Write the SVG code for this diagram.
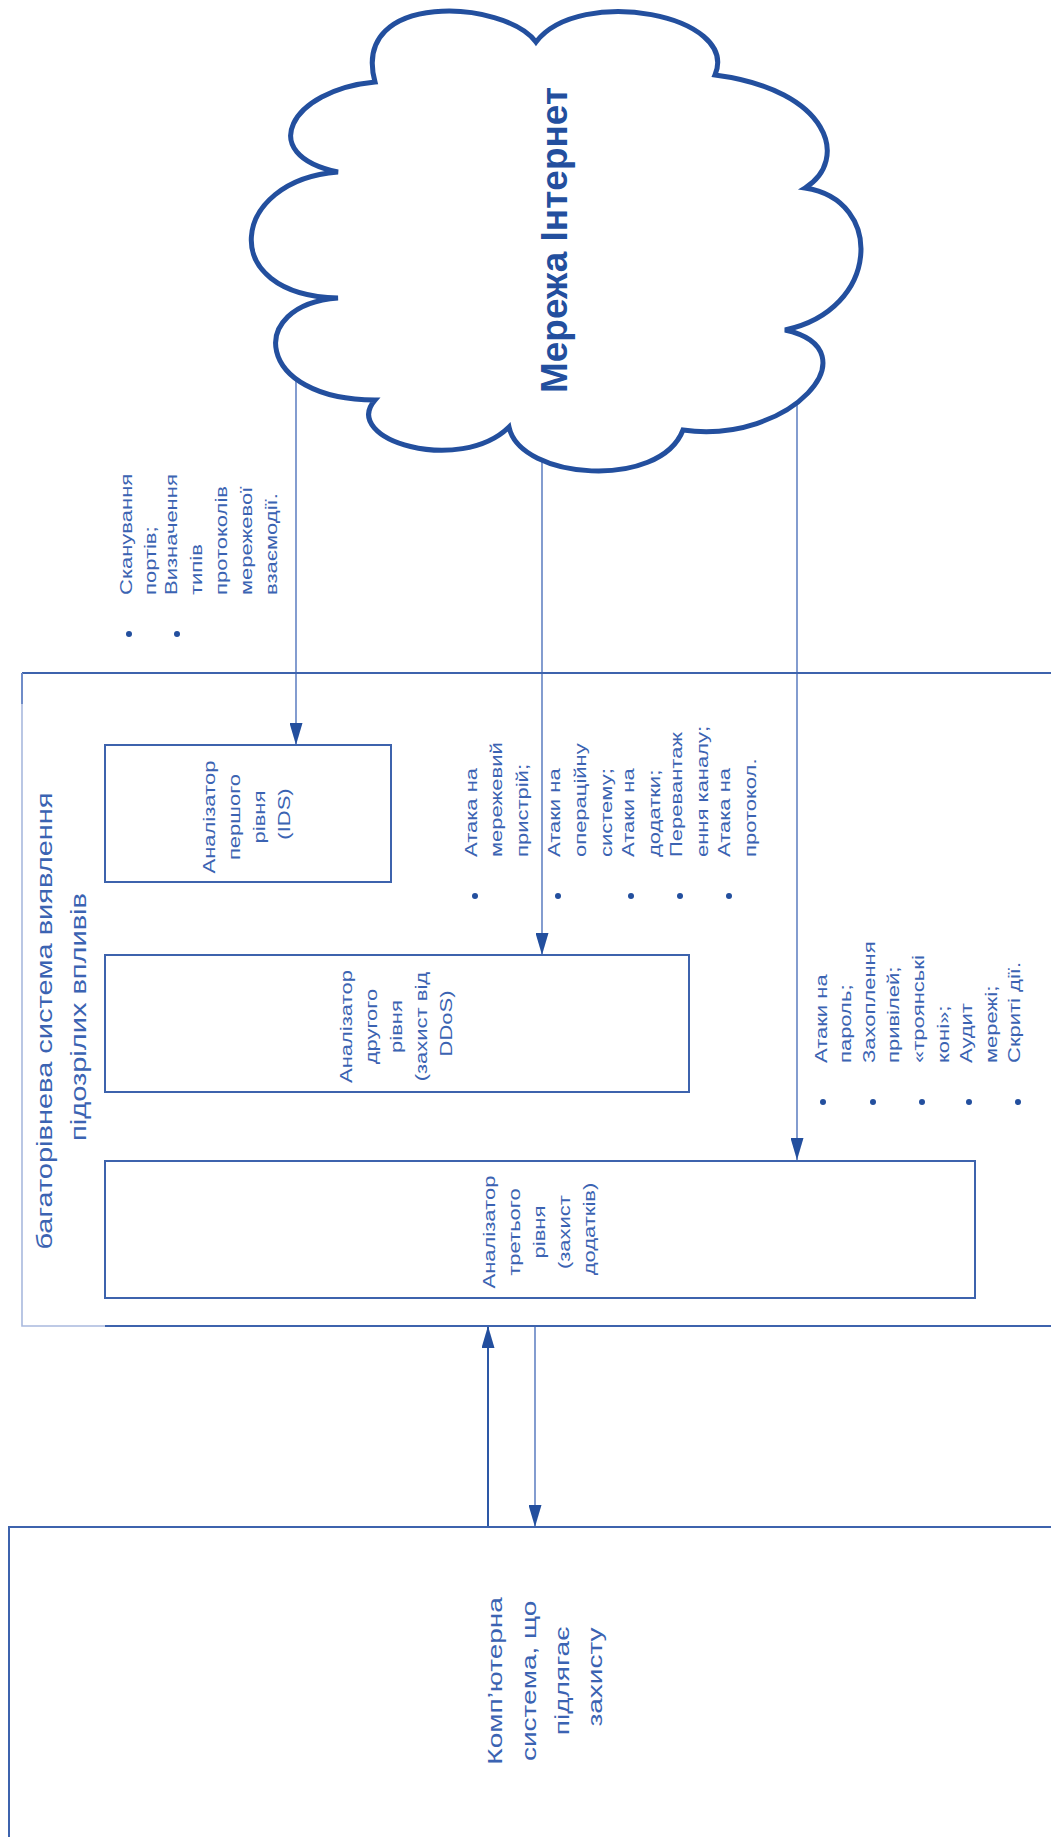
<svg xmlns="http://www.w3.org/2000/svg" width="1051" height="1837" viewBox="0 0 1051 1837">
  <style>
    .lbl { font-family: "Liberation Sans", Arial, sans-serif; fill: #3b63b2; }
    .box { fill: none; stroke: #3d63ad; stroke-width: 2; }
    .wire { fill: none; stroke: #6584c4; stroke-width: 1.6; }
    .dot { fill: #234f9e; }
  </style>
  <defs>
    <marker id="head" viewBox="0 0 22 13" markerUnits="userSpaceOnUse" markerWidth="22" markerHeight="13" refX="22" refY="6.5" orient="auto">
      <path d="M0,0 L22,6.5 L0,13 z" fill="#234f9e"/>
    </marker>
  </defs>

  <rect width="1051" height="1837" fill="#ffffff"/>

  <!-- connectors -->
  <g id="connectors">
    <line class="wire" x1="296" y1="360" x2="296" y2="745" marker-end="url(#head)"/>
    <line class="wire" x1="542" y1="440" x2="542" y2="955" marker-end="url(#head)"/>
    <line class="wire" x1="797" y1="400" x2="797" y2="1160" marker-end="url(#head)"/>
    <line class="wire" x1="488" y1="1527" x2="488" y2="1326" marker-end="url(#head)" style="stroke:#2d58a6;stroke-width:2"/>
    <line class="wire" x1="535" y1="1326" x2="535" y2="1527" marker-end="url(#head)"/>
  </g>

  <!-- Internet cloud -->
  <g id="internet">
    <path d="M536,42 C505,0 350,-10 375,82 C290,90 255,155 338,172 C230,180 215,295 338,298 C245,305 255,400 375,400 C340,440 460,475 509,427 C520,480 660,490 683,430 C790,445 875,350 785,330 C880,310 885,200 805,188 C850,160 830,90 715,75 C740,15 580,-15 536,42 Z"
          fill="#ffffff" stroke="#234f9e" stroke-width="5" stroke-linejoin="miter"/>
    <text class="lbl" transform="translate(567,240) rotate(-90)" text-anchor="middle" font-size="37" font-weight="bold" style="fill:#234f9e">Мережа Інтернет</text>
  </g>

  <!-- list of threats caught at the first level -->
  <g id="threats-1">
    <circle class="dot" cx="129" cy="634" r="3"/>
    <circle class="dot" cx="177" cy="634" r="3"/>
    <text class="lbl" transform="translate(131.5,595) scale(0.75,1) rotate(-90)" font-size="22">
      <tspan x="0" y="0">Сканування</tspan>
      <tspan x="0" y="33.3">портів;</tspan>
      <tspan x="0" y="60.7">Визначення</tspan>
      <tspan x="0" y="94">типів</tspan>
      <tspan x="0" y="127.3">протоколів</tspan>
      <tspan x="0" y="160.7">мережевої</tspan>
      <tspan x="0" y="194">взаємодії.</tspan>
    </text>
  </g>

  <!-- multi-level detection system -->
  <g id="detection-system">
    <path d="M22,673 L1060,673 M105,1326 L1060,1326" fill="none" stroke="#3d63ad" stroke-width="2"/>
    <path d="M22,673 L22,1326 L105,1326" fill="none" stroke="#a9b9de" stroke-width="1.6"/>
    <line x1="22" y1="673" x2="22" y2="704" stroke="#6f8cc8" stroke-width="2"/>
    <text class="lbl" transform="translate(52,1017) scale(0.75,1) rotate(-90)" text-anchor="middle" font-size="29">
      <tspan x="0" y="0">багаторівнева система виявлення</tspan>
      <tspan x="0" y="44.7">підозрілих впливів</tspan>
    </text>
  </g>

  <g id="analyzer-1">
    <rect class="box" x="105" y="745" width="286" height="137"/>
    <text class="lbl" transform="translate(215,814) scale(0.75,1) rotate(-90)" text-anchor="middle" font-size="22">
      <tspan x="0" y="0">Аналізатор</tspan>
      <tspan x="0" y="33.3">першого</tspan>
      <tspan x="0" y="66.7">рівня</tspan>
      <tspan x="0" y="100">(IDS)</tspan>
    </text>
  </g>

  <g id="analyzer-2">
    <rect class="box" x="105" y="955" width="584" height="137"/>
    <text class="lbl" transform="translate(352,1023.5) scale(0.75,1) rotate(-90)" text-anchor="middle" font-size="22">
      <tspan x="0" y="0">Аналізатор</tspan>
      <tspan x="0" y="33.3">другого</tspan>
      <tspan x="0" y="66.7">рівня</tspan>
      <tspan x="0" y="100">(захист від</tspan>
      <tspan x="0" y="133.3">DDoS)</tspan>
    </text>
  </g>

  <g id="analyzer-3">
    <rect class="box" x="105" y="1161" width="870" height="137"/>
    <text class="lbl" transform="translate(495,1229) scale(0.75,1) rotate(-90)" text-anchor="middle" font-size="22">
      <tspan x="0" y="0">Аналізатор</tspan>
      <tspan x="0" y="33.3">третього</tspan>
      <tspan x="0" y="66.7">рівня</tspan>
      <tspan x="0" y="100">(захист</tspan>
      <tspan x="0" y="133.3">додатків)</tspan>
    </text>
  </g>

  <!-- threats for the second level -->
  <g id="threats-2">
    <circle class="dot" cx="475" cy="896" r="3"/>
    <circle class="dot" cx="558" cy="896" r="3"/>
    <circle class="dot" cx="631" cy="896" r="3"/>
    <circle class="dot" cx="680" cy="896" r="3"/>
    <circle class="dot" cx="729" cy="896" r="3"/>
    <text class="lbl" transform="translate(477,857) scale(0.75,1) rotate(-90)" font-size="22">
      <tspan x="0" y="0">Атака на</tspan>
      <tspan x="0" y="33.3">мережевий</tspan>
      <tspan x="0" y="68">пристрій;</tspan>
      <tspan x="0" y="110.7">Атаки на</tspan>
      <tspan x="0" y="145.3">операційну</tspan>
      <tspan x="0" y="180">систему;</tspan>
      <tspan x="0" y="209.3">Атаки на</tspan>
      <tspan x="0" y="244">додатки;</tspan>
      <tspan x="0" y="273.3">Перевантаж</tspan>
      <tspan x="0" y="308">ення каналу;</tspan>
      <tspan x="0" y="337.3">Атака на</tspan>
      <tspan x="0" y="372">протокол.</tspan>
    </text>
  </g>

  <!-- threats for the third level -->
  <g id="threats-3">
    <circle class="dot" cx="823" cy="1102" r="3"/>
    <circle class="dot" cx="873" cy="1102" r="3"/>
    <circle class="dot" cx="922" cy="1102" r="3"/>
    <circle class="dot" cx="969" cy="1102" r="3"/>
    <circle class="dot" cx="1018" cy="1102" r="3"/>
    <text class="lbl" transform="translate(827,1063) scale(0.75,1) rotate(-90)" font-size="22">
      <tspan x="0" y="0">Атаки на</tspan>
      <tspan x="0" y="32">пароль;</tspan>
      <tspan x="0" y="64">Захоплення</tspan>
      <tspan x="0" y="96">привілей;</tspan>
      <tspan x="0" y="129.3">«троянські</tspan>
      <tspan x="0" y="162.7">коні»;</tspan>
      <tspan x="0" y="193.3">Аудит</tspan>
      <tspan x="0" y="226.7">мережі;</tspan>
      <tspan x="0" y="257.3">Скриті дії.</tspan>
    </text>
  </g>

  <!-- protected computer system -->
  <g id="protected-system">
    <path d="M1060,1527 L9,1527 L9,1850" fill="none" stroke="#3d63ad" stroke-width="2"/>
    <text class="lbl" transform="translate(502,1677) scale(0.75,1) rotate(-90)" text-anchor="middle" font-size="28">
      <tspan x="0" y="0">Комп’ютерна</tspan>
      <tspan x="0" y="44.7">система, що</tspan>
      <tspan x="0" y="89.3">підлягає</tspan>
      <tspan x="0" y="134">захисту</tspan>
    </text>
  </g>
</svg>
